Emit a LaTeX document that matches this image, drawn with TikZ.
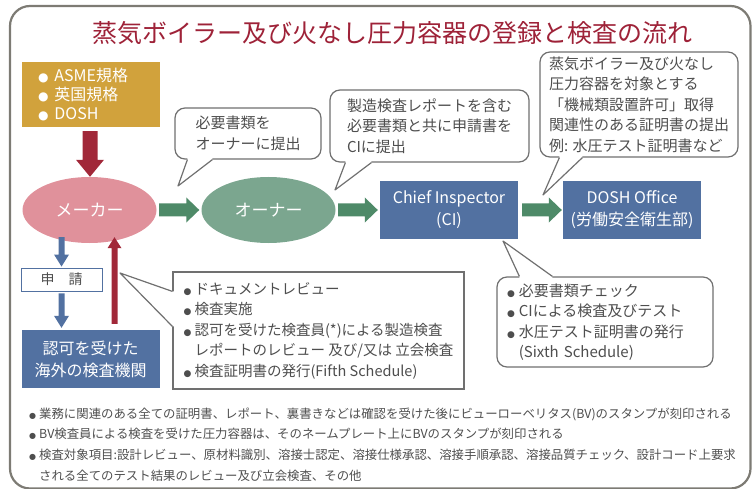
\documentclass[tikz,border=0pt]{standalone}
\usepackage{fontspec}
\setmainfont{Noto Sans CJK JP}
\newfontfamily\dv{DejaVu Sans}
\usetikzlibrary{shapes.geometric,calc}
\definecolor{titlered}{HTML}{9E2238}
\definecolor{goldc}{HTML}{D1A23C}
\definecolor{darkred}{HTML}{A12839}
\definecolor{pinkc}{HTML}{E0919B}
\definecolor{greenell}{HTML}{7BA68F}
\definecolor{greenarr}{HTML}{4E8A68}
\definecolor{bluec}{HTML}{5271A1}
\definecolor{bline}{HTML}{707070}
\definecolor{txtc}{HTML}{4E4E4E}
\definecolor{framec}{HTML}{7D7B74}
\newcommand\bulx[2]{{\dv\fontsize{#1}{#1}\selectfont ●}\hspace{#2}}
\newcommand\harr[2]{\fill[greenarr] ($(#1)+(0,-6.5)$) -- ($(#2)+(-13,-6.5)$) -- ($(#2)+(-13,-12.5)$) -- (#2) -- ($(#2)+(-13,12.5)$) -- ($(#2)+(-13,6.5)$) -- ($(#1)+(0,6.5)$) -- cycle;}
\newcommand\varr[6]{\fill[#6] ($(#1)+({-#3},0)$) -- ($(#2)+({-#3},{-(#5)})$) -- ($(#2)+({-#4},{-(#5)})$) -- (#2) -- ($(#2)+({#4},{-(#5)})$) -- ($(#2)+({#3},{-(#5)})$) -- ($(#1)+({#3},0)$) -- cycle;}
\newcommand\bubtail[4]{\fill[white] (#1) -- ($(#1)+#4$) -- ($(#2)+#4$) -- (#2) -- (#3) -- cycle;
 \draw[bline, line width=1.2pt, line join=round] (#1) -- (#3) -- (#2);}
\begin{document}
\begin{tikzpicture}[x=1pt,y=-1pt,
  goldbox/.style={fill=goldc, text=white, font=\fontsize{16}{19}\selectfont, align=left, inner xsep=16pt, inner ysep=0pt, minimum width=138pt, minimum height=65pt, text width=106pt},
  ell/.style={ellipse, minimum width=134pt, minimum height=66pt, inner sep=0pt, text=white, font=\fontsize{17}{20}\selectfont},
  bbox/.style={fill=bluec, text=white, align=center, inner sep=0pt, minimum width=138pt, minimum height=58pt, font=\fontsize{16}{22}\selectfont},
  reqbox/.style={draw=bluec, line width=0.9pt, fill=white, text=txtc, inner sep=0pt, minimum width=81pt, minimum height=23pt, font=\fontsize{14}{16}\selectfont},
  bubble/.style={draw=bline, line width=1.2pt, fill=white, rounded corners=10pt, text=txtc, align=left, inner sep=0pt, font=\fontsize{15}{20.5}\selectfont},
  callrect/.style={draw=bline, line width=1.2pt, fill=white, text=txtc, align=left, inner sep=0pt, font=\fontsize{14.5}{20.5}\selectfont},
  notes/.style={text=txtc, align=left, inner sep=0pt, font=\fontsize{12.4}{20.7}\selectfont}
]
\useasboundingbox (0,0) rectangle (752,489);
% frame
\draw[framec, line width=2.2pt, rounded corners=20pt] (10,6) rectangle (750.5,488.5);
% title
\node[text=titlered, font=\fontsize{25}{28}\selectfont, inner sep=0pt] (title) at (392,33) {蒸気ボイラー及び火なし圧力容器の登録と検査の流れ};
% main nodes
\node[goldbox] (gold) at (91,94.5) {\bulx{12}{6pt}ASME規格\\\bulx{12}{6pt}英国規格\\\bulx{12}{6pt}DOSH};
\node[ell, fill=pinkc] (mk) at (89.5,210) {メーカー};
\node[ell, fill=greenell] (ow) at (268.5,210) {オーナー};
\node[bbox] (ci) at (449,210) {Chief Inspector\\(CI)};
\node[bbox] (dosh) at (632,210) {DOSH Office\\(労働安全衛生部)};
\node[reqbox] (req) at (61.5,279.5) {申　請};
\node[bbox] (ab) at (90.5,359) {認可を受けた\\海外の検査機関};
% connectors
\coordinate (r1s) at ($(gold.south)+(-1,4)$);
\coordinate (r1e) at (r1s |- mk.north);
\varr{r1s}{r1e}{7.5}{14}{17}{darkred}
\harr{$(mk.east)+(2.5,0)$}{$(ow.west)+(-2,0)$}
\harr{$(ow.east)+(2.5,0)$}{$(ci.west)+(-2,0)$}
\harr{$(ci.east)+(4,0)$}{$(dosh.west)+(-1,0)$}
\coordinate (b1s) at ($(req.north |- mk.south)+(0,-6)$);
\coordinate (b1e) at ($(req.north)+(0,-1)$);
\varr{b1s}{b1e}{3}{7.5}{12}{bluec}
\coordinate (b2s) at ($(req.south)+(0,2)$);
\coordinate (b2e) at ($(req.south |- ab.north)+(0,-2)$);
\varr{b2s}{b2e}{3}{7.5}{12}{bluec}
\coordinate (r2s) at ($(ab.north)+(24,-6)$);
\coordinate (r2e) at ($(r2s |- mk.south)+(0,-6)$);
\varr{r2s}{r2e}{3}{7}{-11}{darkred}
% bubble 1
\node[bubble, minimum width=146pt, minimum height=51pt] (bb1) at (248,133.5) {必要書類を\\オーナーに提出};
\coordinate (t1) at (178,186);
\bubtail{$(bb1.south west)+(13,0)$}{$(bb1.south west)+(38,0)$}{t1}{(0,-2)}
% bubble 2
\node[bubble, minimum width=199pt, minimum height=72pt] (bb2) at (429.5,126) {製造検査レポートを含む\\必要書類と共に申請書を\\CIに提出};
\coordinate (t2) at (335,190);
\bubtail{$(bb2.south west)+(16,0)$}{$(bb2.south west)+(42,0)$}{t2}{(0,-2)}
% bubble 3
\node[bubble, minimum width=198pt, minimum height=105pt] (bb3) at (639,104.5) {蒸気ボイラー及び火なし\\圧力容器を対象とする\\「機械類設置許可」取得\\関連性のある証明書の提出\\例: 水圧テスト証明書など};
\coordinate (t3) at (543,195);
\bubtail{$(bb3.south west)+(20,0)$}{$(bb3.south west)+(43,0)$}{t3}{(0,-2)}
% bubble 4
\node[bubble, minimum width=216pt, minimum height=90pt, text width=196pt, inner xsep=10pt] (bb4) at (605,322) {\bulx{9}{4pt}必要書類チェック\\\bulx{9}{4pt}CIによる検査及びテスト\\\bulx{9}{4pt}水圧テスト証明書の発行\\\phantom{\bulx{9}{4pt}}(Sixth Schedule)};
\coordinate (t4) at (503,241);
\bubtail{$(bb4.north west)+(23,0)$}{$(bb4.north west)+(56,0)$}{t4}{(0,2)}
% rectangular callout
\node[callrect, minimum width=291pt, minimum height=117pt] (cl) at (318.5,330.5) {\bulx{9}{3pt}ドキュメントレビュー\\\bulx{9}{3pt}検査実施\\\bulx{9}{3pt}認可を受けた検査員(*)による製造検査\\\phantom{\bulx{9}{3pt}}レポートのレビュー 及び/又は 立会検査\\\bulx{9}{3pt}検査証明書の発行(Fifth Schedule)};
\coordinate (t5) at (120,273);
\bubtail{$(cl.north west)+(0,20)$}{$(cl.north west)+(0,55)$}{t5}{(2,0)}
% notes
\node[notes, anchor=west] (notes) at (29,444.5) {\bulx{8}{3pt}業務に関連のある全ての証明書、レポート、裏書きなどは確認を受けた後にビューローベリタス(BV)のスタンプが刻印される\\\bulx{8}{3pt}BV検査員による検査を受けた圧力容器は、そのネームプレート上にBVのスタンプが刻印される\\\bulx{8}{3pt}検査対象項目:設計レビュー、原材料識別、溶接士認定、溶接仕様承認、溶接手順承認、溶接品質チェック、設計コード上要求\\\phantom{\bulx{8}{3pt}}される全てのテスト結果のレビュー及び立会検査、その他};
\end{tikzpicture}
\end{document}
